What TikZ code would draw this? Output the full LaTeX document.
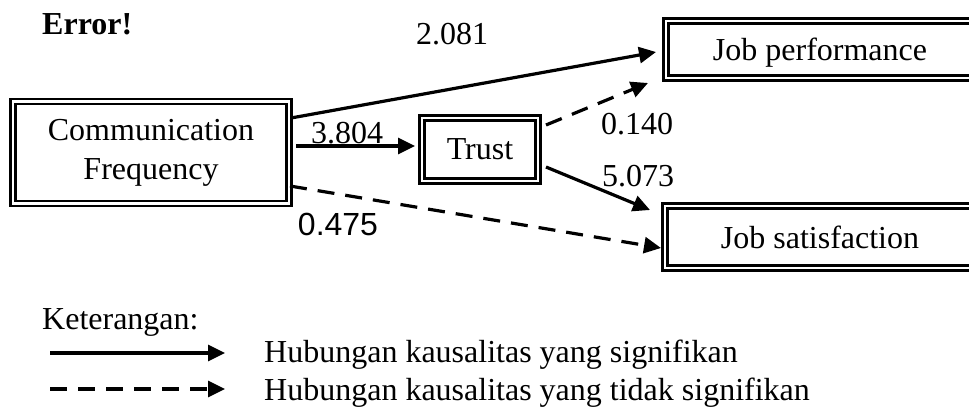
\documentclass[tikz,border=0pt]{standalone}
\usepackage{fontspec}
\setmainfont{Liberation Serif}
\newfontfamily\arialfont{Liberation Sans}
\usepackage{tikz}
\usetikzlibrary{arrows.meta, positioning}

\begin{document}
\begin{tikzpicture}[x=1pt, y=1pt,
  font=\fontsize{32}{39}\selectfont,
  varbox/.style={draw, double, line width=2.6pt, double distance=2.4pt,
    inner sep=0pt, outer sep=0pt, align=center},
  sig/.style={line width=3.2pt, -{Triangle[length=17pt,width=16pt]}},
  nonsig/.style={sig, dash pattern=on 17pt off 11pt},
  coef/.style={inner sep=0pt, anchor=base}]
  \useasboundingbox (0,0) rectangle (969,408);

  % variables
  \node[varbox, minimum width=276pt, minimum height=102pt] (comm) at (151,255.5)
    {Communication\\Frequency};
  \node[varbox, minimum width=116pt, minimum height=63pt] (trust) at (480,258.5) {Trust};
  \node[varbox, minimum width=308pt, minimum height=57pt, text depth=0pt] (jperf) at (820,358.5)
    {Job performance};
  \node[varbox, minimum width=310pt, minimum height=62pt, text depth=0pt] (jsat) at (820,171)
    {Job satisfaction};

  % paths
  \draw[sig] ([xshift=2pt,yshift=34.5pt]comm.east) -- ([xshift=-10pt,yshift=-2.5pt]jperf.west);
  \draw[sig] ([xshift=7pt,yshift=6.5pt]comm.east) -- ([xshift=-7pt,yshift=3.5pt]trust.west);
  \draw[nonsig] ([xshift=8pt,yshift=24.5pt]trust.east) -- ([xshift=-18pt,yshift=-33.5pt]jperf.west);
  \draw[sig] ([xshift=8pt,yshift=-17.5pt]trust.east) -- ([xshift=-15pt,yshift=27pt]jsat.west);
  \draw[nonsig] ([xshift=1pt,yshift=-33.5pt]comm.east) -- ([xshift=-4pt,yshift=-11pt]jsat.west);

  % coefficients
  \node[coef] (c1) at (452,363) {2.081};
  \node[coef] (c2) at (347,265) {3.804};
  \node[coef] (c3) at (637,274) {0.140};
  \node[coef] (c4) at (638,222) {5.073};
  \node[coef, font=\fontsize{32}{39}\arialfont] (c5) at (338,173) {0.475};

  \node[inner sep=0pt, anchor=base west] (err) at (42,373) {\bfseries Error!};

  % legend
  \node[inner sep=0pt, anchor=base west] (ket) at (42,79) {Keterangan:};
  \coordinate (sigA) at (50,55);
  \coordinate (sigB) at (225,55);
  \coordinate (nsA) at (50,19);
  \coordinate (nsB) at (225,19);
  \draw[sig] (sigA) -- (sigB);
  \draw[nonsig] (nsA) -- (nsB);
  \node[inner sep=0pt, anchor=base west] (sigtxt) at (264,46) {Hubungan kausalitas yang signifikan};
  \node[inner sep=0pt, anchor=base west] (nstxt) at (264,8) {Hubungan kausalitas yang tidak signifikan};
\end{tikzpicture}
\end{document}
